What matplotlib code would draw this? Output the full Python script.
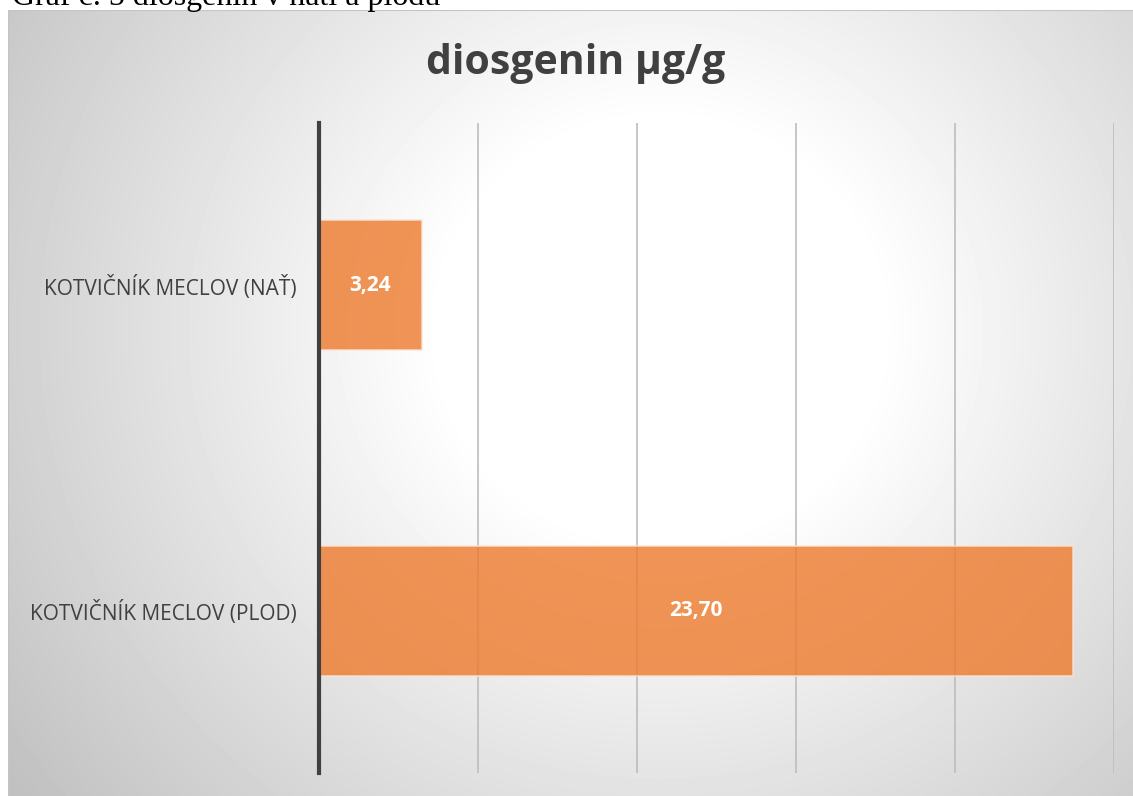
import numpy as np
import matplotlib.pyplot as plt
from matplotlib.patches import Rectangle

# diosgenin content, ug/g
categories = ['KOTVIČNÍK MECLOV (PLOD)', 'KOTVIČNÍK MECLOV (NAŤ)']
values = [23.70, 3.24]
value_labels = ['23,70', '3,24']
x_ticks = [0, 5, 10, 15, 20, 25]

W, H = 1133, 796
fig = plt.figure(figsize=(W / 100, H / 100), dpi=100)
fig.patch.set_facecolor('white')

# chart frame with radial grey background (pixel coords)
box_x0, box_y0 = 8, 10
bg = fig.add_axes([box_x0 / W, 0, 1 - box_x0 / W, 1 - box_y0 / H])
bg.set_xlim(box_x0, W)
bg.set_ylim(H, box_y0)
yy, xx = np.mgrid[box_y0:H, box_x0:W]
d = np.hypot((xx - 660) / 1.0, (yy - 330) / 0.95)
shade = 255 - 62 * np.clip((d - 220) / 580, 0, 1)
bg.imshow(shade, cmap='gray', vmin=0, vmax=255,
          extent=(box_x0, W, H, box_y0), aspect='auto', interpolation='bilinear')
bg.add_patch(Rectangle((box_x0, box_y0), W, H, fill=False, ec='#c4c4c4', lw=1.5))
bg.axis('off')

# caption above the frame, partly cut off at the page edge
fig.text(12 / W, 1 - 5 / H, 'Graf č. 5 diosgenin v nati a plodu',
         family='Liberation Serif', fontsize=23, color='black', va='baseline')

# plot area
px0, px1 = 319, 1114
py0, py1 = 123, 773
ax = fig.add_axes([px0 / W, 1 - py1 / H, (px1 - px0) / W, (py1 - py0) / H])
ax.patch.set_alpha(0)

y = np.arange(len(categories))
ax.barh(y, values, height=0.4, color='#ED7D31', alpha=0.82,
        edgecolor='#fbe3d3', linewidth=1.2, zorder=3)
for yi, v, lab in zip(y, values, value_labels):
    ax.text(v / 2, yi, lab, ha='center', va='center', color='white',
            fontsize=15, fontweight='bold', family='Open Sans', zorder=4)

ax.set_xlim(0, 25)
ax.set_ylim(-0.5, 1.5)
ax.set_xticks(x_ticks)
ax.set_xticklabels([])
ax.grid(axis='x', color='#bdbdbd', lw=1.2, zorder=1)
ax.set_yticks(y)
ax.set_yticklabels(categories, family='Open Sans', fontsize=15, color='#404040')
ax.tick_params(axis='both', length=0)
ax.tick_params(axis='y', pad=16)
for s in ['top', 'right', 'bottom']:
    ax.spines[s].set_visible(False)
ax.spines['left'].set_color('#404040')
ax.spines['left'].set_linewidth(3)
ax.spines['left'].set_zorder(5)

fig.text(576 / W, 1 - 63 / H, 'diosgenin µg/g', ha='center', va='center',
         family='Open Sans', fontsize=29.5, fontweight='bold', color='#404040')

fig.savefig('out.png', dpi=100)
